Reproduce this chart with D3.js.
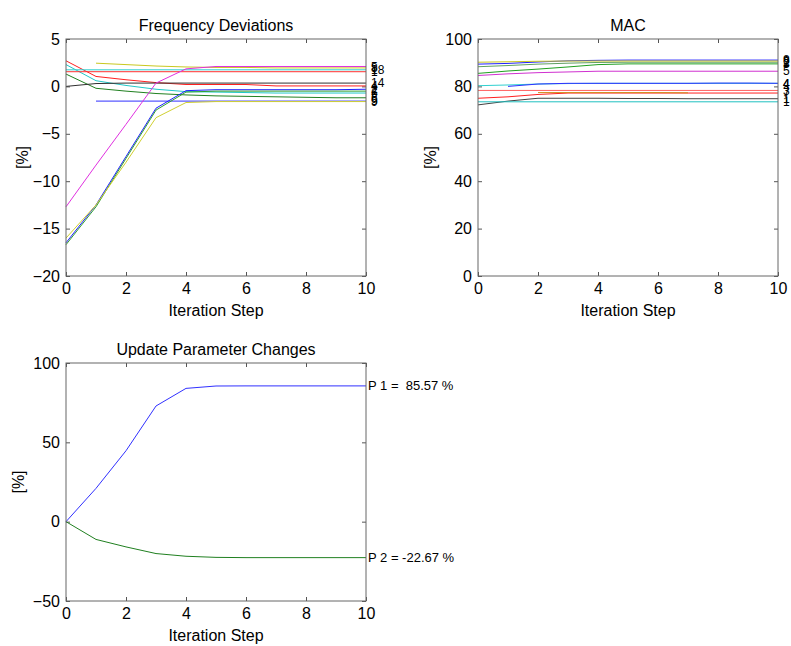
<!DOCTYPE html>
<html>
<head>
<meta charset="utf-8">
<script src="https://cdn.jsdelivr.net/npm/d3@7"></script>
<style>
  body { margin: 0; background: #fff; }
  svg { display: block; font-family: "Liberation Sans", Arial, sans-serif; }
  .tick text { font-size: 16px; fill: #000; }
  .tick line { stroke: #555; }
  .endlab { white-space: pre; }
</style>
</head>
<body>
<svg id="fig" width="791" height="646"></svg>
<script>
// iteration steps (x axis)
var steps = [0, 1, 2, 3, 4, 5, 6, 7, 8, 9, 10];
var xTicks = [0, 2, 4, 6, 8, 10];

// Frequency Deviations [%] for each mode
var fdRedA    = [2.7, 1.05, 0.7, 0.4, 0.2, 0.2, 0.2, 0.05, 0.05, 0.05, 0.05];
var fdCyanA   = [2.3, 0.6, 0.1, -0.3, -0.55, -0.6, -0.65, -0.7, -0.7, -0.7, -0.7];
var fdGreenA  = [1.3, -0.2, -0.5, -0.75, -0.9, -1.0, -1.05, -1.1, -1.15, -1.2, -1.2];
var fdBlack   = [0.0, 0.3, 0.35, 0.35, 0.35, 0.35, 0.35, 0.35, 0.35, 0.35, 0.35];
var fdRedB    = [1.55, 1.55, 1.55, 1.55, 1.55, 1.55, 1.55, 1.55, 1.55, 1.55, 1.55];
var fdCyanB   = [1.75, 1.75, 1.75, 1.75, 1.75, 1.75, 1.75, 1.75, 1.75, 1.75, 1.75];
var fdYellowA = [null, 2.45, 2.3, 2.15, 2.05, 2.0, 2.0, 1.95, 1.95, 1.95, 1.95];
var fdBlueB   = [null, -1.55, -1.55, -1.55, -1.55, -1.55, -1.55, -1.55, -1.55, -1.55, -1.55];
var fdMagenta = [-12.7, -8.3, -4.0, 0.35, 1.85, 2.1, 2.1, 2.1, 2.1, 2.1, 2.1];
var fdBlueA   = [-16.5, -12.5, -7.4, -2.3, -0.45, -0.35, -0.35, -0.35, -0.35, -0.35, -0.3];
var fdGreenB  = [-16.7, -12.7, -7.6, -2.5, -0.6, -0.5, -0.5, -0.5, -0.5, -0.5, -0.5];
var fdYellowB = [-16.0, -12.5, -8.0, -3.3, -1.7, -1.6, -1.6, -1.6, -1.6, -1.6, -1.6];
var freqLines  = [fdRedA, fdCyanA, fdGreenA, fdBlack, fdRedB, fdCyanB, fdYellowA, fdBlueB, fdMagenta, fdBlueA, fdGreenB, fdYellowB];
var freqLabels = ["4", "6", "6", "14", "1", "18", "8", "5", "5", "2", "2", "9"];
var freqColors = ["#ff2020", "#20c8c8", "#208020", "#303030", "#ff3030", "#30d0d0", "#c8c820", "#3030ff", "#e030e0", "#2020ff", "#30a030", "#d0d030"];
var freqTicks  = [5, 0, -5, -10, -15, -20];

// MAC [%] for each mode
var macGrayA   = [72.2, 73.8, 75.0, 75.0, 75.0, 74.9, 74.9, 74.8, 74.8, 74.8, 74.8];
var macCyanA   = [73.5, 73.5, 73.5, 73.5, 73.5, 73.5, 73.5, 73.5, 73.5, 73.5, 73.5];
var macRedA    = [75.0, 75.6, 76.6, 77.2, 77.2, 77.2, 77.2, 77.2, 77.2, 77.2, 77.2];
var macOchre   = [null, null, 77.4, 77.4, 77.4, 77.4, 77.4, 77.3, null, null, null];
var macRedB    = [78.3, 78.3, 78.3, 78.3, 78.3, 78.3, 78.3, 78.3, 78.3, 78.3, 78.3];
var macCyanB   = [80.3, 80.6, 81.0, 81.2, 81.3, 81.3, 81.3, 81.3, 81.3, 81.3, 81.3];
var macBlueA   = [null, 80.0, 81.0, 81.3, 81.3, 81.3, 81.3, 81.3, 81.4, 81.4, 81.3];
var macMagenta = [84.6, 85.3, 85.8, 86.1, 86.4, 86.4, 86.4, 86.4, 86.4, 86.4, 86.4];
var macGreenA  = [85.5, 86.5, 87.3, 88.2, 89.2, 89.5, 89.5, 89.5, 89.5, 89.5, 89.5];
var macGreenB  = [88.3, 88.8, 89.4, 89.8, 90.1, 90.2, 90.2, 90.2, 90.2, 90.2, 90.2];
var macBlueB   = [89.4, 89.7, 90.3, 90.8, 91.0, 91.1, 91.1, 91.1, 91.1, 91.1, 91.1];
var macYellow  = [90.2, 90.4, 90.6, 90.7, 90.7, 90.7, 90.7, 90.7, 90.7, 90.7, 90.7];
var macLines  = [macGrayA, macCyanA, macRedA, macOchre, macRedB, macCyanB, macBlueA, macMagenta, macGreenA, macGreenB, macBlueB, macYellow];
var macLabels = ["1", "1", "7", "", "3", "4", "4", "5", "3", "2", "8", "9"];
var macColors = ["#404040", "#20c0c0", "#ff2020", "#d09020", "#ff6060", "#30d0d0", "#3030ff", "#d030d0", "#20a020", "#60a060", "#2020ff", "#c8c820"];
var macTicks  = [0, 20, 40, 60, 80, 100];

// Update Parameter Changes [%]
var par1 = [0, 21, 44.7, 72.9, 84.0, 85.5, 85.57, 85.57, 85.57, 85.57, 85.57];
var par2 = [0, -11.2, -15.9, -20.1, -21.8, -22.5, -22.67, -22.67, -22.67, -22.67, -22.67];
var parLabels = ["P 1 =  85.57 %", "P 2 = -22.67 %"];
var parColors = ["#3030ff", "#208020"];
var parTicks  = [100, 50, 0, -50];

var svg = d3.select("#fig");

// 1つのサブプロットを描く
function panel(opt) {
	var x = d3.scaleLinear().domain([0, 10]).range([opt.left, opt.left + 300]);
	var y = d3.scaleLinear().domain(opt.ydom).range([opt.top + opt.h, opt.top]);
	var g = svg.append("g");

	// axes (ticks inward, mirrored on top/right like MATLAB box on)
	g.append("g").attr("transform", "translate(0," + (opt.top + opt.h) + ")")
		.call(d3.axisBottom(x).tickValues(xTicks).tickSizeInner(-4).tickSizeOuter(0).tickPadding(7))
		.call(function(s){ s.select(".domain").remove(); });
	g.append("g").attr("transform", "translate(0," + opt.top + ")")
		.call(d3.axisTop(x).tickValues(xTicks).tickSizeInner(-4).tickSizeOuter(0).tickFormat(""))
		.call(function(s){ s.select(".domain").remove(); });
	g.append("g").attr("transform", "translate(" + opt.left + ",0)")
		.call(d3.axisLeft(y).tickValues(opt.yticks).tickSizeInner(-4).tickSizeOuter(0).tickPadding(6))
		.call(function(s){ s.select(".domain").remove(); });
	g.append("g").attr("transform", "translate(" + (opt.left + 300) + ",0)")
		.call(d3.axisRight(y).tickValues(opt.yticks).tickSizeInner(-4).tickSizeOuter(0).tickFormat(""))
		.call(function(s){ s.select(".domain").remove(); });

	var line = d3.line()
		.defined(function(d){ return d != null; })
		.x(function(d, i){ return x(steps[i]); })
		.y(function(d){ return y(d); });

	opt.lines.forEach(function(vals, k){
		g.append("path").datum(vals)
			.attr("d", line)
			.attr("fill", "none")
			.attr("stroke", opt.colors[k])
			.attr("stroke-width", 1);
	});

	// 最終ステップのラベル
	opt.lines.forEach(function(vals, k){
		if (!opt.labels[k]) return;
		g.append("text")
			.attr("class", "endlab")
			.attr("x", x(10) + opt.labelDx)
			.attr("y", y(vals[vals.length - 1]))
			.attr("dy", "0.35em")
			.attr("font-size", opt.labelSize)
			.text(opt.labels[k]);
	});

	// box
	g.append("rect")
		.attr("x", opt.left).attr("y", opt.top)
		.attr("width", 300).attr("height", opt.h)
		.attr("fill", "none").attr("stroke", "#666").attr("stroke-width", 1);

	g.append("text")
		.attr("x", opt.left + 150).attr("y", opt.top - 8)
		.attr("text-anchor", "middle").attr("font-size", 16)
		.text(opt.title);
	g.append("text")
		.attr("x", opt.left + 150).attr("y", opt.top + opt.h + 40)
		.attr("text-anchor", "middle").attr("font-size", 16)
		.text("Iteration Step");
	g.append("text")
		.attr("transform", "translate(" + opt.ylabX + "," + (opt.top + opt.h / 2) + ") rotate(-90)")
		.attr("text-anchor", "middle").attr("font-size", 16)
		.text("[%]");
}

panel({ left: 66, top: 39, h: 237, ydom: [-20, 5], yticks: freqTicks,
	lines: freqLines, colors: freqColors, labels: freqLabels, labelDx: 5, labelSize: 12,
	title: "Frequency Deviations", ylabX: 28 });

panel({ left: 478, top: 39, h: 237, ydom: [0, 100], yticks: macTicks,
	lines: macLines, colors: macColors, labels: macLabels, labelDx: 5, labelSize: 12,
	title: "MAC", ylabX: 436 });

panel({ left: 66, top: 363, h: 238, ydom: [-50, 100], yticks: parTicks,
	lines: [par1, par2], colors: parColors, labels: parLabels, labelDx: 2, labelSize: 13,
	title: "Update Parameter Changes", ylabX: 24 });
</script>
</body>
</html>
